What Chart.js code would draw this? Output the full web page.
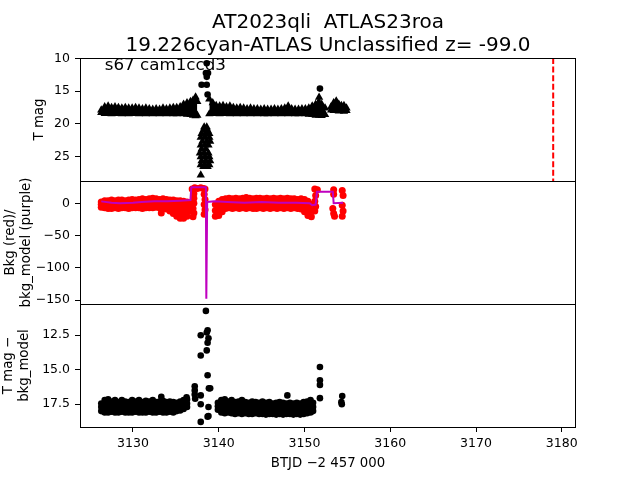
<!DOCTYPE html>
<html>
<head>
<meta charset="utf-8">
<script src="https://cdn.jsdelivr.net/npm/chart.js@4.4.1/dist/chart.umd.min.js"></script>
<style>
  body { margin: 0; background: #fff; }
  #wrap { position: relative; width: 640px; height: 480px; }
  canvas { position: absolute; left: 0; top: 0; }
</style>
</head>
<body>
<div id="wrap">
  <canvas id="magChart" width="640" height="480"></canvas>
  <canvas id="bkgChart" width="640" height="480"></canvas>
  <canvas id="diffChart" width="640" height="480"></canvas>
</div>
<script>
// ---- labels / ticks ----
const titleLines = ["AT2023qli  ATLAS23roa", "19.226cyan-ATLAS Unclassified z= -99.0"];
const ccdLabel = "s67 cam1ccd3";
const discoveryT = 3179.0;
const xTicks = [3130, 3140, 3150, 3160, 3170, 3180];
const magTicks = [10, 15, 20, 25];
const bkgTicks = [0, -50, -100, -150];
const diffTicks = [12.5, 15.0, 17.5];

// ---- top panel: T mag (triangles = limits, dots = detections) ----
const tLimA = [3126.3, 3126.7, 3127.1, 3127.5, 3127.9, 3128.3, 3128.7, 3129.1, 3129.5, 3129.9, 3130.3, 3130.7, 3131.1, 3131.5, 3131.9, 3132.3, 3132.7, 3133.1, 3133.5, 3133.9, 3134.3, 3134.7, 3135.1, 3135.5, 3135.9, 3136.3, 3136.7, 3137.0, 3137.3, 3137.5];
const limHiA = [17.9, 17.4, 17.3, 17.5, 17.4, 17.5, 17.6, 17.5, 17.6, 17.6, 17.5, 17.6, 17.7, 17.6, 17.7, 17.8, 17.7, 17.8, 17.6, 17.7, 17.6, 17.5, 17.5, 17.4, 17.0, 16.8, 16.6, 16.4, 15.9, 16.6];
const limLoA = [18.3, 18.45, 18.4, 18.5, 18.45, 18.4, 18.5, 18.45, 18.5, 18.45, 18.4, 18.5, 18.45, 18.5, 18.45, 18.5, 18.45, 18.5, 18.45, 18.5, 18.45, 18.5, 18.5, 18.45, 18.5, 18.55, 18.6, 18.7, 18.8, 18.7];
const tLimB = [3138.9, 3139.3, 3139.7, 3140.1, 3140.5, 3140.9, 3141.3, 3141.7, 3142.1, 3142.5, 3142.9, 3143.3, 3143.7, 3144.1, 3144.5, 3144.9, 3145.3, 3145.7, 3146.1, 3146.5, 3146.9, 3147.3, 3147.7, 3148.1, 3148.5, 3148.9, 3149.3, 3149.7, 3150.1, 3150.5, 3150.9, 3151.3, 3151.7, 3152.0, 3152.4];
const limHiB = [16.2, 16.8, 17.2, 17.3, 17.2, 17.4, 17.3, 17.5, 17.6, 17.5, 17.6, 17.7, 17.6, 17.7, 17.7, 17.8, 17.7, 17.8, 17.8, 17.7, 17.8, 17.7, 17.6, 17.3, 17.7, 17.8, 17.8, 17.7, 17.7, 17.6, 17.3, 17.0, 15.95, 17.0, 17.6];
const limLoB = [18.5, 18.4, 18.45, 18.5, 18.45, 18.4, 18.5, 18.45, 18.5, 18.45, 18.5, 18.45, 18.5, 18.45, 18.5, 18.45, 18.5, 18.5, 18.45, 18.5, 18.45, 18.5, 18.45, 18.5, 18.45, 18.5, 18.5, 18.45, 18.5, 18.55, 18.6, 18.7, 18.7, 18.75, 18.6];
const tLimC = [3153.1, 3153.4, 3153.7, 3154.0, 3154.3, 3154.6, 3154.9];
const limHiC = [17.4, 16.8, 16.5, 17.0, 17.2, 17.2, 17.6];
const limLoC = [17.9, 18.0, 18.0, 18.05, 18.0, 18.1, 18.0];
// faint limits during the flare gap
const tLimCol = [3138.3, 3138.6, 3138.2, 3138.7, 3138.0, 3138.5, 3138.9, 3137.9, 3138.4, 3138.9, 3138.1, 3138.6, 3139.0, 3137.9, 3138.4, 3138.8, 3138.0, 3138.5, 3137.8, 3138.3, 3138.8, 3137.9, 3138.4, 3138.9, 3138.0, 3138.5, 3139.0, 3137.9, 3138.4, 3138.9, 3138.2, 3138.7, 3137.9];
const limCol = [20.5, 20.5, 21.0, 21.0, 21.5, 21.5, 21.5, 22.1, 22.1, 22.1, 22.7, 22.7, 22.7, 23.3, 23.3, 23.3, 23.9, 23.9, 24.5, 24.5, 24.5, 25.1, 25.1, 25.1, 25.7, 25.7, 25.7, 26.3, 26.3, 26.3, 26.6, 26.6, 27.9];
const tDet = [3138.6, 3138.5, 3138.75, 3138.6, 3138.0, 3138.6, 3138.7, 3151.8];
const magDet = [10.7, 12.2, 12.2, 12.8, 14.0, 14.0, 15.5, 14.6];

// ---- middle panel: bkg (red) and bkg_model (purple) ----
const tBkgA = [3126.3, 3126.7, 3127.1, 3127.5, 3127.9, 3128.3, 3128.7, 3129.1, 3129.5, 3129.9, 3130.3, 3130.7, 3131.1, 3131.5, 3131.9, 3132.3, 3132.7, 3133.1, 3133.5, 3133.9, 3134.3, 3134.7, 3135.1, 3135.5, 3135.9, 3136.3, 3136.6];
const bkgHiA = [2, 4, 4, 5, 4, 5, 5, 4, 5, 6, 5, 6, 7, 6, 7, 8, 7, 6, 7, 6, 5, 5, 4, 4, 3, 2, 0];
const bkgMidA = [-2, -1, -2, -1, -1, -2, -1, -1, -2, -1, -1, 0, -1, -1, 0, -1, 0, -1, -1, -2, -3, -6, -9, -11, -12, -10, -6];
const bkgLoA = [-6, -7, -8, -8, -7, -8, -7, -7, -8, -7, -7, -7, -8, -7, -7, -7, -6, -7, -7, -9, -12, -16, -20, -23, -23, -20, -12];
const tBkgB = [3139.6, 3140.0, 3140.4, 3140.8, 3141.2, 3141.6, 3142.0, 3142.4, 3142.8, 3143.2, 3143.6, 3144.0, 3144.4, 3144.8, 3145.2, 3145.6, 3146.0, 3146.4, 3146.8, 3147.2, 3147.6, 3148.0, 3148.4, 3148.8, 3149.2, 3149.6, 3150.0, 3150.4, 3150.8];
const bkgHiB = [-2, 3, 6, 7, 8, 7, 8, 7, 8, 9, 8, 7, 8, 8, 7, 8, 7, 8, 7, 8, 7, 8, 7, 7, 6, 7, 6, 3, -2];
const bkgMidB = [-11, -8, -4, 0, 0, -1, 0, 0, -1, 0, 0, -1, 0, 0, -1, 0, 0, -1, 0, 0, -1, 0, 0, -1, 0, -1, -4, -8, -11];
const bkgLoB = [-20, -19, -13, -8, -7, -8, -7, -8, -7, -8, -7, -8, -8, -7, -8, -7, -8, -7, -8, -7, -8, -7, -8, -7, -8, -9, -13, -19, -21];
const tBkgX = [3133.3, 3136.9, 3137.2, 3137.5, 3137.9, 3138.2, 3138.4, 3137.1, 3137.1, 3137.1, 3137.0, 3137.1, 3137.0, 3138.3, 3138.4, 3138.3, 3138.4, 3138.3, 3151.2, 3151.5, 3151.3, 3151.2, 3151.3, 3151.2, 3153.4, 3153.4, 3153.3, 3153.4, 3153.5, 3154.4, 3154.5, 3154.4, 3154.5, 3154.4];
const bkgX = [-15, 22, 24, 23, 24, 23, 22, 15, 8, 0, -8, -15, -21, 14, 6, -2, -10, -17, 22, 21, 12, 3, -5, -12, 21, 14, -8, -16, -20, 20, 12, -3, -12, -20];
const tModel = [3126.3, 3127.5, 3128.5, 3130.0, 3131.0, 3132.5, 3134.0, 3135.5, 3136.7, 3136.8, 3138.5, 3138.55, 3138.65, 3139.5, 3141.0, 3143.0, 3145.0, 3147.0, 3149.0, 3150.6, 3150.9, 3151.3, 3151.45, 3153.3, 3153.4, 3154.5];
const bkgModel = [3, 1, 0, 1, 2, 3, 3, 4, 5, 25, 25, -148, 2, 3, 2, 1, 2, 1, 1, 0, -3, -2, 18, 18, 0, 1];

// ---- bottom panel: T mag - bkg_model ----
const tDiffA = [3126.3, 3126.7, 3127.1, 3127.5, 3127.9, 3128.3, 3128.7, 3129.1, 3129.5, 3129.9, 3130.3, 3130.7, 3131.1, 3131.5, 3131.9, 3132.3, 3132.7, 3133.1, 3133.5, 3133.9, 3134.3, 3134.7, 3135.1, 3135.5, 3135.9, 3136.3];
const diffHiA = [17.45, 17.2, 17.15, 17.3, 17.2, 17.35, 17.2, 17.3, 17.35, 17.2, 17.3, 17.2, 17.35, 17.25, 17.3, 17.2, 17.35, 17.3, 17.25, 17.35, 17.3, 17.35, 17.4, 17.3, 17.2, 17.15];
const diffMidA = [17.7, 17.65, 17.6, 17.7, 17.65, 17.7, 17.6, 17.7, 17.7, 17.65, 17.7, 17.65, 17.7, 17.7, 17.65, 17.7, 17.7, 17.65, 17.7, 17.7, 17.65, 17.7, 17.7, 17.6, 17.5, 17.45];
const diffLoA = [18.0, 18.1, 18.1, 18.05, 18.1, 18.1, 18.05, 18.1, 18.1, 18.1, 18.05, 18.1, 18.1, 18.1, 18.05, 18.1, 18.1, 18.05, 18.1, 18.1, 18.05, 18.1, 18.0, 17.95, 17.85, 17.7];
const tDiffB = [3139.9, 3140.3, 3140.7, 3141.1, 3141.5, 3141.9, 3142.3, 3142.7, 3143.1, 3143.5, 3143.9, 3144.3, 3144.7, 3145.1, 3145.5, 3145.9, 3146.3, 3146.7, 3147.1, 3147.5, 3147.9, 3148.3, 3148.7, 3149.1, 3149.5, 3149.9, 3150.3, 3150.7, 3151.0];
const diffHiB = [17.4, 17.2, 17.15, 17.3, 17.2, 17.35, 17.3, 17.2, 17.35, 17.4, 17.3, 17.35, 17.4, 17.3, 17.4, 17.35, 17.45, 17.4, 17.35, 17.4, 17.45, 17.4, 17.45, 17.4, 17.45, 17.35, 17.3, 17.2, 17.4];
const diffMidB = [17.65, 17.65, 17.7, 17.7, 17.7, 17.75, 17.7, 17.7, 17.75, 17.8, 17.75, 17.75, 17.8, 17.75, 17.8, 17.8, 17.85, 17.8, 17.8, 17.8, 17.85, 17.8, 17.85, 17.8, 17.85, 17.8, 17.7, 17.65, 17.7];
const diffLoB = [17.9, 18.1, 18.15, 18.1, 18.15, 18.2, 18.15, 18.2, 18.15, 18.2, 18.2, 18.15, 18.2, 18.2, 18.25, 18.2, 18.2, 18.25, 18.2, 18.25, 18.2, 18.2, 18.25, 18.2, 18.25, 18.2, 18.15, 18.1, 18.0];
const tDiffX = [3133.3, 3136.25, 3137.2, 3137.2, 3137.2, 3137.25, 3137.9, 3138.5, 3138.7, 3138.6, 3138.8, 3138.7, 3138.6, 3137.9, 3138.7, 3139.0, 3138.85, 3137.9, 3137.9, 3138.8, 3138.8, 3138.7, 3137.9, 3148.0, 3151.8, 3151.8, 3151.8, 3151.8, 3154.4, 3154.3, 3154.35];
const diffX = [16.96, 17.0, 16.2, 16.5, 16.8, 17.1, 12.5, 10.74, 12.15, 12.3, 12.73, 13.05, 13.6, 13.97, 15.4, 16.35, 16.35, 16.86, 17.5, 17.7, 18.35, 18.4, 18.78, 16.86, 14.8, 15.77, 16.1, 17.06, 16.9, 17.35, 17.5];

const X_MIN = 3123.82;
const X_MAX = 3181.66;

Chart.defaults.font.family = "'DejaVu Sans', sans-serif";
Chart.defaults.color = "#000";
Chart.defaults.animation = false;

const pts = (xs, ys) => xs.map((x, i) => ({ x: x, y: ys[i] }));

// box around each panel, like matplotlib spines
const frame = {
  id: "frame",
  afterDraw(chart) {
    const a = chart.chartArea;
    const c = chart.ctx;
    c.save();
    c.strokeStyle = "#000";
    c.lineWidth = 1;
    const l = Math.round(a.left), t = Math.round(a.top);
    const r = Math.round(a.right), b = Math.round(a.bottom);
    c.strokeRect(l + 0.5, t + 0.5, r - l - 1, b - t);
    c.restore();
  },
};

// title over the axes, discovery marker and ccd label on the top panel
const marker = {
  id: "marker",
  afterDatasetsDraw(chart) {
    const { ctx, chartArea: a, scales } = chart;
    const px = scales.x.getPixelForValue(discoveryT);
    ctx.save();
    ctx.strokeStyle = "#ff0000";
    ctx.lineWidth = 2;
    ctx.setLineDash([6, 2.6]);
    ctx.beginPath();
    ctx.moveTo(px, a.top);
    ctx.lineTo(px, a.bottom);
    ctx.stroke();
    ctx.setLineDash([]);
    ctx.fillStyle = "#000";
    ctx.font = "16.7px 'DejaVu Sans'";
    ctx.textBaseline = "alphabetic";
    ctx.fillText(ccdLabel, a.left + 0.05 * a.width, a.bottom - 0.9 * a.height);
    ctx.font = "20px 'DejaVu Sans'";
    ctx.textAlign = "center";
    const cx = (a.left + a.right) / 2;
    ctx.fillText(titleLines[0], cx, a.top - 30.5);
    ctx.fillText(titleLines[1], cx, a.top - 7.5);
    ctx.restore();
  },
};

const yAxis = (min, max, reverse, tickVals, title, titlePad, fmt) => ({
  type: "linear",
  min: min,
  max: max,
  reverse: reverse,
  afterFit: (s) => { s.width = 80; },
  afterBuildTicks: (s) => { s.ticks = tickVals.map((v) => ({ value: v })); },
  grid: { drawOnChartArea: false, tickLength: 5, color: "#000" },
  border: { display: false },
  ticks: { padding: 5, font: { size: 12.5 }, callback: fmt },
  title: { display: true, text: title, font: { size: 13.3, lineHeight: 1.25 }, padding: { top: titlePad, bottom: 0 } },
});

const hiddenX = { type: "linear", min: X_MIN, max: X_MAX, display: false };

const noPlugins = { legend: { display: false }, tooltip: { enabled: false } };

const minus = (v) => (v < 0 ? "\u2212" + Math.abs(v) : String(v));

const tri = (data) => ({
  data: data, showLine: false, pointStyle: "triangle", pointRadius: 4.8,
  pointBackgroundColor: "#000", pointBorderWidth: 0, fill: false,
});
const band = (data, color, style, radius, fillPrev) => ({
  data: data, showLine: true, borderColor: color, borderWidth: 1, tension: 0,
  backgroundColor: color, fill: fillPrev ? "-1" : false,
  pointStyle: style, pointRadius: radius,
  pointBackgroundColor: color, pointBorderWidth: 0,
});
const dots = (data, color, radius) => ({
  data: data, showLine: false, pointStyle: "circle", pointRadius: radius,
  pointBackgroundColor: color, pointBorderWidth: 0, fill: false,
});

// top panel
new Chart(document.getElementById("magChart"), {
  type: "line",
  data: {
    datasets: [
      dots(pts(tDet, magDet), "#000", 3.3),
      band(pts(tLimA, limHiA), "#000", "triangle", 4.8, false),
      band(pts(tLimA, limLoA), "#000", "triangle", 4.8, true),
      band(pts(tLimB, limHiB), "#000", "triangle", 4.8, false),
      band(pts(tLimB, limLoB), "#000", "triangle", 4.8, true),
      band(pts(tLimC, limHiC), "#000", "triangle", 4.8, false),
      band(pts(tLimC, limLoC), "#000", "triangle", 4.8, true),
      tri(pts(tLimCol, limCol)),
    ],
  },
  options: {
    responsive: false,
    devicePixelRatio: 1,
    layout: { padding: { left: 0, top: 58, right: 64, bottom: 299 } },
    scales: {
      x: hiddenX,
      y: yAxis(9.9, 28.8, true, magTicks, "T mag", 31, (v) => String(v)),
    },
    plugins: noPlugins,
  },
  plugins: [frame, marker],
});

// middle panel
new Chart(document.getElementById("bkgChart"), {
  type: "line",
  data: {
    datasets: [
      {
        data: pts(tModel, bkgModel), showLine: true, borderColor: "#bf00bf",
        borderWidth: 2, pointRadius: 0, fill: false, tension: 0,
      },
      dots(pts(tBkgX, bkgX), "#ff0000", 3.5),
      dots(pts(tBkgA, bkgMidA), "#ff0000", 3.5),
      dots(pts(tBkgB, bkgMidB), "#ff0000", 3.5),
      band(pts(tBkgA, bkgHiA), "#ff0000", "circle", 3.5, false),
      band(pts(tBkgA, bkgLoA), "#ff0000", "circle", 3.5, true),
      band(pts(tBkgB, bkgHiB), "#ff0000", "circle", 3.5, false),
      band(pts(tBkgB, bkgLoB), "#ff0000", "circle", 3.5, true),
    ],
  },
  options: {
    responsive: false,
    devicePixelRatio: 1,
    layout: { padding: { left: 0, top: 181, right: 64, bottom: 176 } },
    scales: {
      x: hiddenX,
      y: yAxis(-156.2, 34.6, false, bkgTicks, ["Bkg (red)/", "bkg_model (purple)"], 2, minus),
    },
    plugins: noPlugins,
  },
  plugins: [frame],
});

// bottom panel
new Chart(document.getElementById("diffChart"), {
  type: "line",
  data: {
    datasets: [
      dots(pts(tDiffX, diffX), "#000", 3.3),
      dots(pts(tDiffA, diffMidA), "#000", 3.3),
      dots(pts(tDiffB, diffMidB), "#000", 3.3),
      band(pts(tDiffA, diffHiA), "#000", "circle", 3.3, false),
      band(pts(tDiffA, diffLoA), "#000", "circle", 3.3, true),
      band(pts(tDiffB, diffHiB), "#000", "circle", 3.3, false),
      band(pts(tDiffB, diffLoB), "#000", "circle", 3.3, true),
    ],
  },
  options: {
    responsive: false,
    devicePixelRatio: 1,
    layout: { padding: { left: 0, top: 304, right: 64, bottom: 0 } },
    scales: {
      x: {
        type: "linear",
        min: X_MIN,
        max: X_MAX,
        afterFit: (s) => { s.height = 53; },
        afterBuildTicks: (s) => { s.ticks = xTicks.map((v) => ({ value: v })); },
        grid: { drawOnChartArea: false, tickLength: 5, color: "#000" },
        border: { display: false },
        ticks: { padding: 4, maxRotation: 0, font: { size: 12.5 }, callback: (v) => String(v) },
        title: { display: true, text: "BTJD \u22122 457 000", font: { size: 13.3, lineHeight: 1.2 }, padding: { top: 0, bottom: 8 } },
      },
      y: yAxis(10.24, 19.15, true, diffTicks, ["T mag \u2212", "bkg_model"], 0, (v) => v.toFixed(1)),
    },
    plugins: noPlugins,
  },
  plugins: [frame],
});
</script>
</body>
</html>
